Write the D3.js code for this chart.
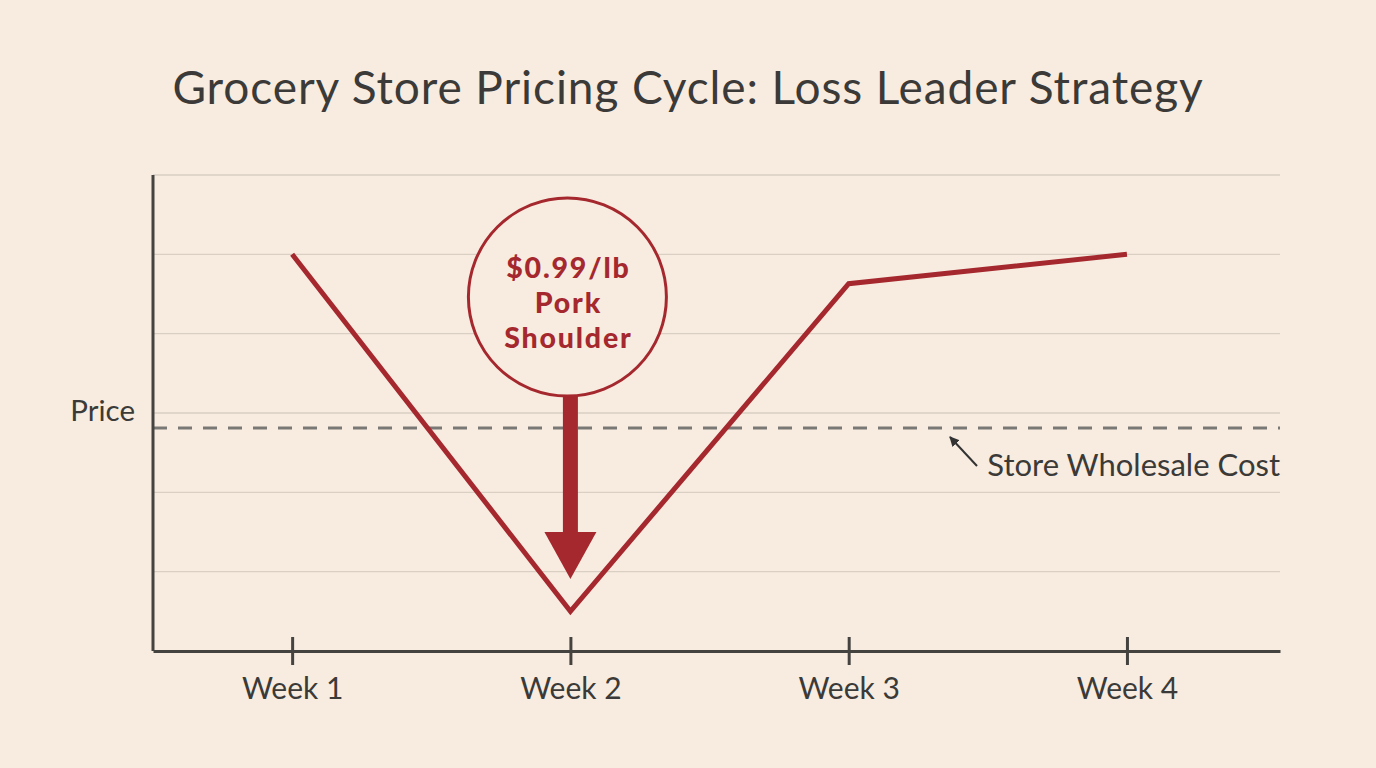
<!DOCTYPE html>
<html><head><meta charset="utf-8">
<script src="https://cdn.jsdelivr.net/npm/d3@7"></script>
<style>
html,body{margin:0;padding:0;background:#f8ece0;}
svg{display:block;}
</style></head>
<body>
<svg id="chart" width="1376" height="768"></svg>
<script>
const weeks = ["Week 1", "Week 2", "Week 3", "Week 4"];
const prices = [5.0, 0.5, 4.63, 5.0];
const wholesaleCost = 2.81;
const gridValues = [1, 2, 3, 4, 5, 6];
const title = "Grocery Store Pricing Cycle: Loss Leader Strategy";
const calloutLines = ["$0.99/lb", "Pork", "Shoulder"];
const yLabel = "Price";
const costLabel = "Store Wholesale Cost";

(function () {
const svg = d3.select("#chart");
const W = 1376, H = 768;
const mLeft = 153, mRight = 1280, mTop = 175, mBottom = 651;
const red = "#a5282e", axisCol = "#454340", font = "Lato, 'Open Sans', sans-serif";

svg.append("rect").attr("width", W).attr("height", H).attr("fill", "#f8ece0");

const x = d3.scaleLinear().domain([0.5, 4.55]).range([mLeft, mRight]);
const y = d3.scaleLinear().domain([0, 6]).range([mBottom, mTop]);

// title
svg.append("text").attr("x", 688).attr("y", 104).attr("text-anchor", "middle")
  .attr("font-family", font).attr("font-size", 46).attr("fill", "#3b3a38")
  .attr("letter-spacing", 0.9).text(title);

// gridlines
svg.append("g").selectAll("line").data(gridValues).join("line")
  .attr("x1", mLeft).attr("x2", mRight).attr("y1", d => y(d)).attr("y2", d => y(d))
  .attr("stroke", "#d9cfc3").attr("stroke-width", 1.3);

// wholesale dashed line
svg.append("line").attr("x1", mLeft).attr("x2", mRight)
  .attr("y1", y(wholesaleCost)).attr("y2", y(wholesaleCost))
  .attr("stroke", "#7a7875").attr("stroke-width", 3).attr("stroke-dasharray", "14,11");

// axes
svg.append("line").attr("x1", mLeft).attr("x2", mLeft).attr("y1", mTop).attr("y2", mBottom)
  .attr("stroke", axisCol).attr("stroke-width", 3);
const xAxis = d3.axisBottom(x).tickValues([1, 2, 3, 4]).tickFormat((d, i) => weeks[i])
  .tickSizeInner(14).tickSizeOuter(0).tickPadding(13);
const gx = svg.append("g").attr("transform", `translate(0,${mBottom})`).call(xAxis);
gx.select(".domain").attr("stroke", axisCol).attr("stroke-width", 3);
gx.selectAll(".tick line").attr("stroke", axisCol).attr("stroke-width", 3).attr("y1", -14);
gx.selectAll(".tick text").attr("font-family", font).attr("font-size", 30).attr("fill", "#3b3a38");

// y label
svg.append("text").attr("x", 135).attr("y", 421).attr("text-anchor", "end")
  .attr("font-family", font).attr("font-size", 29.5).attr("fill", "#3b3a38").text(yLabel);

// price line
const line = d3.line().x((d, i) => x(i + 1)).y(d => y(d));
svg.append("path").datum(prices).attr("d", line).attr("fill", "none")
  .attr("stroke", red).attr("stroke-width", 5).attr("stroke-linejoin", "miter");

// callout arrow
const cx = x(2);
svg.append("rect").attr("x", cx - 7.5).attr("y", 395).attr("width", 15).attr("height", 140).attr("fill", red);
svg.append("path").attr("d", `M${cx - 26},${532} L${cx + 26},${532} L${cx},${579} Z`).attr("fill", red);

// callout circle
svg.append("circle").attr("cx", cx - 3).attr("cy", 297).attr("r", 99)
  .attr("fill", "#f8ece0").attr("stroke", red).attr("stroke-width", 3);
svg.append("g").selectAll("text").data(calloutLines).join("text")
  .attr("x", cx - 2).attr("y", (d, i) => [278, 313, 348][i]).attr("text-anchor", "middle")
  .attr("font-family", font).attr("font-weight", 900).attr("font-size", 28.5)
  .attr("letter-spacing", 1.8).attr("fill", red).text(d => d);

// wholesale label + small arrow
const defs = svg.append("defs");
defs.append("marker").attr("id", "ah").attr("viewBox", "0 0 10 10").attr("refX", 9).attr("refY", 5)
  .attr("markerWidth", 5).attr("markerHeight", 5).attr("orient", "auto")
  .append("path").attr("d", "M0,0 L10,5 L0,10 Z").attr("fill", "#333");
svg.append("line").attr("x1", 977).attr("y1", 466).attr("x2", 950).attr("y2", 437)
  .attr("stroke", "#333").attr("stroke-width", 2).attr("marker-end", "url(#ah)");
svg.append("text").attr("x", 1280).attr("y", 476).attr("text-anchor", "end")
  .attr("font-family", font).attr("font-size", 31).attr("fill", "#3b3a38").text(costLabel);
})();
</script>
</body></html>
